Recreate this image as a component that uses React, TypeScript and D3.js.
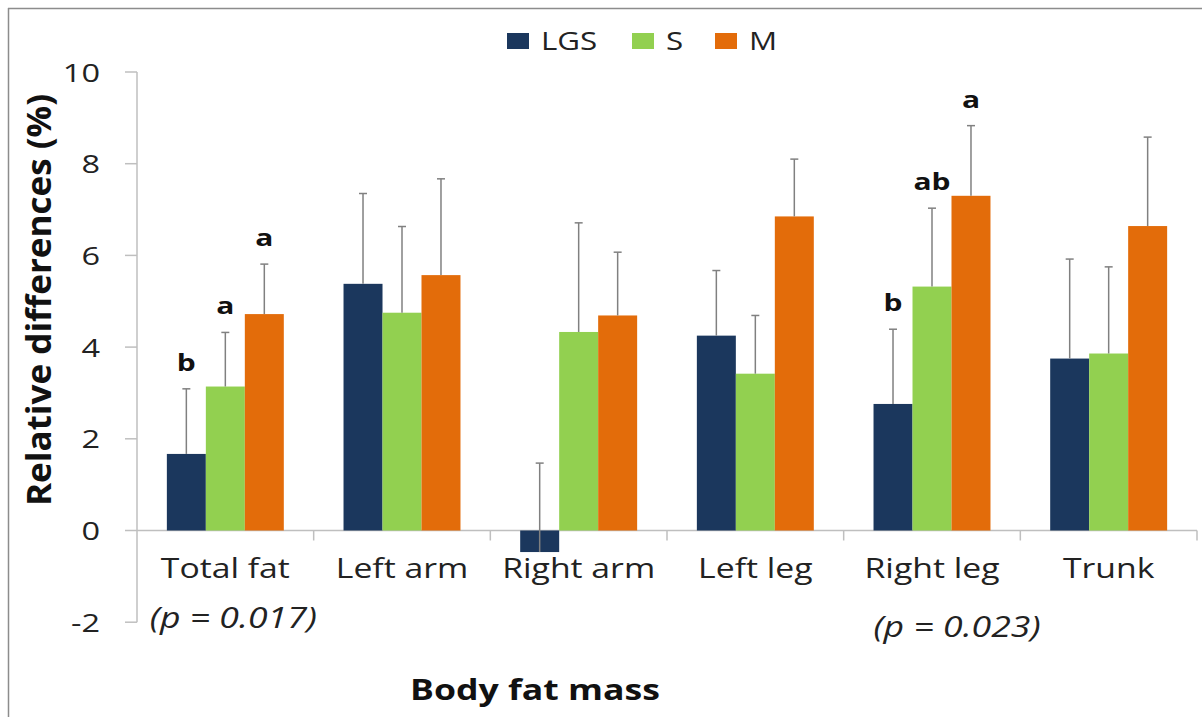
import React from "react";
import * as d3 from "d3";

const categories = ["Total fat", "Left arm", "Right arm", "Left leg", "Right leg", "Trunk"];
const seriesNames = ["LGS", "S", "M"];
const seriesColors = ["#1b375d", "#92d050", "#e36c0a"];

const lgsValues = [1.67, 5.38, -0.47, 4.25, 2.76, 3.75];
const sValues = [3.14, 4.75, 4.33, 3.42, 5.32, 3.86];
const mValues = [4.72, 5.57, 4.69, 6.85, 7.3, 6.64];

const lgsErrors = [1.42, 1.97, 1.94, 1.42, 1.63, 2.17];
const sErrors = [1.18, 1.88, 2.38, 1.27, 1.71, 1.89];
const mErrors = [1.09, 2.1, 1.38, 1.25, 1.53, 1.94];

const lgsLetters = ["b", "", "", "", "b", ""];
const sLetters = ["a", "", "", "", "ab", ""];
const mLetters = ["a", "", "", "", "a", ""];

const yTicks = [-2, 0, 2, 4, 6, 8, 10];
const pLabels = ["(p = 0.017)", "", "", "", "(p = 0.023)", ""];

const W = 1202;
const H = 717;
const FONT = "'Open Sans', 'Noto Sans', sans-serif";
const SX = 1.25;

export default function App() {
  const left = 137;
  const right = 1197;
  const x0 = d3
    .scaleBand<string>()
    .domain(categories)
    .range([left, right])
    .paddingInner(0.338)
    .paddingOuter(0.169);
  const x1 = d3.scaleBand<string>().domain(seriesNames).range([0, x0.bandwidth()]).padding(0);
  const y = d3.scaleLinear().domain([-2, 10]).range([622.2, 72]);

  const values = [lgsValues, sValues, mValues];
  const errors = [lgsErrors, sErrors, mErrors];
  const letters = [lgsLetters, sLetters, mLetters];

  const axisColor = "#bfbfbf";
  const errColor = "#808080";

  const step = x0.step();
  const catTicks = categories.map((_, i) => left + step * (i + 1));

  const stretched = (x: number, y0: number, anchor: string, content: string, props: any) => (
    <text
      transform={`translate(${x},${y0}) scale(${SX},1)`}
      textAnchor={anchor}
      fontFamily={FONT}
      {...props}
    >
      {content}
    </text>
  );

  const legendX = [507, 632, 715];

  return (
    <svg
      width={W}
      height={H}
      style={{ position: "absolute", left: 0, top: 0, background: "#fff" }}
    >
      <rect x={0} y={0} width={W} height={H} fill="#fff" />
      {/* frame */}
      <line x1={8} y1={8.5} x2={W} y2={8.5} stroke="#8c8c8c" strokeWidth={1.5} />
      <line x1={8.5} y1={8} x2={8.5} y2={H} stroke="#8c8c8c" strokeWidth={1.5} />

      {/* y axis */}
      <line x1={left} y1={y(10)} x2={left} y2={y(-2)} stroke={axisColor} strokeWidth={1.5} />
      {yTicks.map((t) => (
        <g key={t}>
          <line x1={left - 12} x2={left} y1={y(t)} y2={y(t)} stroke={axisColor} strokeWidth={1.5} />
          {stretched(100, y(t) + 9.5, "end", String(t), { fontSize: 26, fill: "#222" })}
        </g>
      ))}

      {/* x axis */}
      <line x1={left} y1={y(0)} x2={right} y2={y(0)} stroke={axisColor} strokeWidth={1.5} />
      {catTicks.map((tx, i) => (
        <line key={i} x1={tx} x2={tx} y1={y(0)} y2={y(0) + 10} stroke={axisColor} strokeWidth={1.5} />
      ))}

      {/* bars */}
      {seriesNames.map((s, si) =>
        categories.map((c, ci) => {
          const v = values[si][ci];
          const bx = (x0(c) as number) + (x1(s) as number);
          const bw = x1.bandwidth();
          return (
            <rect
              key={s + c}
              x={bx}
              y={Math.min(y(v), y(0))}
              width={bw}
              height={Math.abs(y(v) - y(0))}
              fill={seriesColors[si]}
            />
          );
        })
      )}

      {/* error bars */}
      {seriesNames.map((s, si) =>
        categories.map((c, ci) => {
          const v = values[si][ci];
          const e = errors[si][ci];
          const cx = (x0(c) as number) + (x1(s) as number) + x1.bandwidth() / 2;
          return (
            <g key={"e" + s + c}>
              <line x1={cx} x2={cx} y1={y(v)} y2={y(v + e)} stroke={errColor} strokeWidth={1.5} />
              <line x1={cx - 4} x2={cx + 4} y1={y(v + e)} y2={y(v + e)} stroke={errColor} strokeWidth={1.5} />
            </g>
          );
        })
      )}

      {/* significance letters */}
      {seriesNames.map((s, si) =>
        categories.map((c, ci) => {
          const l = letters[si][ci];
          if (!l) return null;
          const v = values[si][ci];
          const e = errors[si][ci];
          const cx = (x0(c) as number) + (x1(s) as number) + x1.bandwidth() / 2;
          return (
            <g key={"l" + s + c}>
              {stretched(cx, y(v + e) - 18, "middle", l, { fontSize: 24, fontWeight: 700, fill: "#111" })}
            </g>
          );
        })
      )}

      {/* category labels */}
      {categories.map((c) => (
        <g key={"c" + c}>
          {stretched((x0(c) as number) + x0.bandwidth() / 2, 578, "middle", c, { fontSize: 27, fill: "#222" })}
        </g>
      ))}

      {/* p labels */}
      {pLabels.map((p, i) =>
        p ? (
          <g key={"p" + i}>
            {stretched(
              (x0(categories[i]) as number) + x0.bandwidth() / 2 + (i === 0 ? 8 : 25),
              i === 0 ? 628 : 637,
              "middle",
              p,
              { fontSize: 28.5, fontStyle: "italic", fill: "#222" }
            )}
          </g>
        ) : null
      )}

      {/* x title */}
      {stretched(535, 700, "middle", "Body fat mass", { fontSize: 28.5, fontWeight: 700, fill: "#111" })}

      {/* y title */}
      <text
        transform={`translate(51,300) rotate(-90) scale(1,${SX})`}
        textAnchor="middle"
        fontFamily={FONT}
        fontSize={27}
        fontWeight={700}
        fill="#111"
        textLength={412}
        lengthAdjust="spacingAndGlyphs"
      >
        Relative differences (%)
      </text>

      {/* legend */}
      {seriesNames.map((s, i) => (
        <g key={"lg" + s}>
          <rect x={legendX[i]} y={33} width={22} height={16} fill={seriesColors[i]} />
          {stretched(legendX[i] + 34, 50, "start", s, { fontSize: 25, fill: "#222" })}
        </g>
      ))}
    </svg>
  );
}
